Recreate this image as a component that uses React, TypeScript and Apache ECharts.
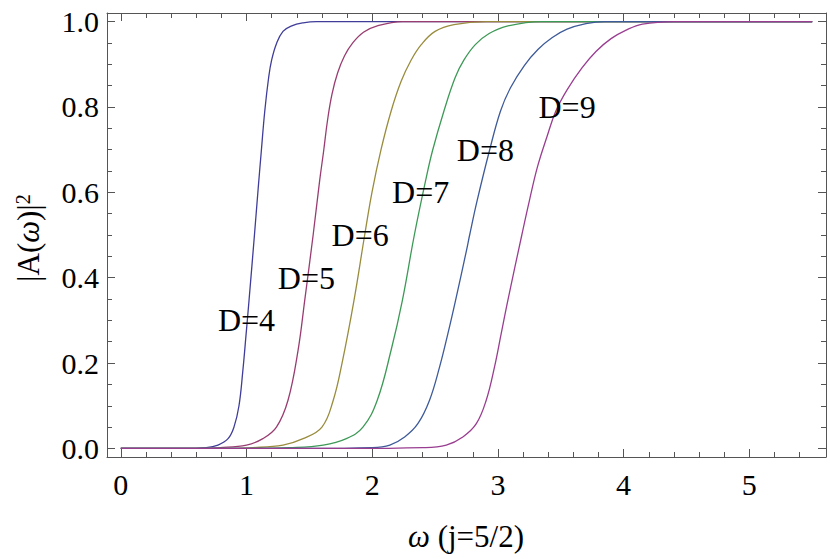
import React, { useEffect, useRef } from "react";
import * as echarts from "echarts";

// ---- data (omega, |A|^2) ----
const D4: number[][] = [[0,0],[0.5,0],[0.68,0.002],[0.773,0.008],[0.853,0.023],[0.9,0.05],[0.94,0.1],[0.97,0.18],[0.997,0.269],[1.02,0.347],[1.063,0.5],[1.093,0.61],[1.118,0.698],[1.145,0.79],[1.176,0.869],[1.2,0.91],[1.238,0.948],[1.29,0.977],[1.36,0.99],[1.45,0.997],[1.556,1],[5.5,1]];
const D5: number[][] = [[0,0],[0.6,0],[0.79,0.002],[1.0,0.008],[1.13,0.023],[1.238,0.05],[1.33,0.113],[1.41,0.23],[1.463,0.347],[1.53,0.5],[1.582,0.628],[1.614,0.698],[1.645,0.77],[1.68,0.83],[1.725,0.88],[1.78,0.92],[1.845,0.95],[1.93,0.975],[2.04,0.99],[2.24,1],[5.5,1]];
const D6: number[][] = [[0,0],[0.8,0],[1.05,0.002],[1.29,0.008],[1.45,0.023],[1.6,0.05],[1.69,0.113],[1.76,0.2],[1.855,0.347],[1.94,0.5],[1.998,0.6],[2.07,0.7],[2.15,0.79],[2.23,0.86],[2.31,0.91],[2.39,0.946],[2.5,0.977],[2.65,0.993],[2.91,1],[5.5,1]];
const D7: number[][] = [[0,0],[1.0,0],[1.34,0.002],[1.61,0.008],[1.794,0.023],[1.926,0.05],[2.04,0.113],[2.15,0.23],[2.24,0.347],[2.335,0.5],[2.425,0.628],[2.48,0.698],[2.57,0.79],[2.66,0.869],[2.73,0.91],[2.82,0.946],[2.93,0.972],[3.08,0.99],[3.35,1],[5.5,1]];
const D8: number[][] = [[0,0],[1.5,0],[2.0,0.002],[2.14,0.008],[2.258,0.027],[2.363,0.058],[2.456,0.113],[2.536,0.191],[2.602,0.269],[2.663,0.347],[2.75,0.464],[2.775,0.5],[2.835,0.581],[2.933,0.698],[3.02,0.79],[3.1,0.845],[3.21,0.897],[3.32,0.935],[3.43,0.962],[3.55,0.982],[3.7,0.995],[3.85,1],[5.5,1]];
const D9: number[][] = [[0,0],[1.8,0],[2.403,0.002],[2.589,0.008],[2.721,0.027],[2.828,0.058],[2.907,0.113],[2.973,0.191],[3.026,0.269],[3.079,0.347],[3.19,0.5],[3.25,0.58],[3.315,0.66],[3.39,0.73],[3.46,0.79],[3.55,0.84],[3.67,0.892],[3.78,0.93],[3.9,0.96],[4.02,0.98],[4.15,0.994],[4.4,1],[5.5,1]];

const SERIES_NAMES = ["D=4", "D=5", "D=6", "D=7", "D=8", "D=9"];
const SERIES_DATA = [D4, D5, D6, D7, D8, D9];
const SERIES_COLORS = ["#3f3d99", "#993d71", "#998c3d", "#3d9956", "#3d5a99", "#993d90"];
// label anchor points (omega, value) for the curve labels
const LABEL_POINTS: [number, number, string][] = [
  [1.0, 0.3, "D=4"],
  [1.476, 0.4, "D=5"],
  [1.904, 0.5, "D=6"],
  [2.385, 0.6, "D=7"],
  [2.9, 0.7, "D=8"],
  [3.55, 0.8, "D=9"],
];

const X_MIN = -0.11;
const X_MAX = 5.61;
const Y_MIN = -0.02;
const Y_MAX = 1.02;
const X_MAJOR = [0, 1, 2, 3, 4, 5];
const X_MINOR: number[] = [];
for (let i = 1; i <= 27; i++) if (i % 5 !== 0) X_MINOR.push(+(i * 0.2).toFixed(2));
const Y_MAJOR = [0, 0.2, 0.4, 0.6, 0.8, 1.0];
const Y_MINOR: number[] = [];
for (let i = 1; i < 20; i++) if (i % 4 !== 0) Y_MINOR.push(+(i * 0.05).toFixed(2));

const FONT = "'Liberation Serif', 'Times New Roman', serif";
const FRAME = "#555555";

function xAxisDef(position: "top" | "bottom", ticks: number[], len: number, showLine: boolean, showLabel: boolean) {
  return {
    type: "value",
    position,
    min: X_MIN,
    max: X_MAX,
    axisLine: { show: showLine, onZero: false, lineStyle: { color: FRAME, width: 1 } },
    axisTick: { show: true, inside: true, length: len, customValues: ticks, lineStyle: { color: FRAME, width: 1 } },
    axisLabel: showLabel
      ? { show: true, customValues: ticks, fontSize: 30, fontFamily: FONT, color: "#000", margin: 12, formatter: (v: number) => String(v) }
      : { show: false },
    splitLine: { show: false },
  };
}
function yAxisDef(position: "left" | "right", ticks: number[], len: number, showLine: boolean, showLabel: boolean) {
  return {
    type: "value",
    position,
    min: Y_MIN,
    max: Y_MAX,
    axisLine: { show: showLine, onZero: false, lineStyle: { color: FRAME, width: 1 } },
    axisTick: { show: true, inside: true, length: len, customValues: ticks, lineStyle: { color: FRAME, width: 1 } },
    axisLabel: showLabel
      ? { show: true, customValues: ticks, fontSize: 30, fontFamily: FONT, color: "#000", margin: 8, formatter: (v: number) => v.toFixed(1) }
      : { show: false },
    splitLine: { show: false },
  };
}

export default function App() {
  const ref = useRef<HTMLDivElement>(null);
  useEffect(() => {
    if (!ref.current) return;
    const chart = echarts.init(ref.current, undefined, { renderer: "svg" });
    const lines = SERIES_DATA.map((d, i) => ({
      name: SERIES_NAMES[i],
      type: "line",
      xAxisIndex: 0,
      yAxisIndex: 0,
      data: d,
      showSymbol: false,
      smooth: 0.4,
      lineStyle: { color: SERIES_COLORS[i], width: 1.3 },
      itemStyle: { color: SERIES_COLORS[i] },
      z: 2,
    }));
    const option = {
      animation: false,
      backgroundColor: "#ffffff",
      grid: { left: 107, right: 4, top: 13, bottom: 102, containLabel: false },
      xAxis: [
        xAxisDef("bottom", X_MAJOR, 8, true, true),
        xAxisDef("bottom", X_MINOR, 5, false, false),
        xAxisDef("top", X_MAJOR, 8, true, false),
        xAxisDef("top", X_MINOR, 5, false, false),
      ],
      yAxis: [
        yAxisDef("left", Y_MAJOR, 8, true, true),
        yAxisDef("left", Y_MINOR, 5, false, false),
        yAxisDef("right", Y_MAJOR, 8, true, false),
        yAxisDef("right", Y_MINOR, 5, false, false),
      ],
      series: [
        ...lines,
        {
          name: "labels",
          type: "scatter",
          xAxisIndex: 0,
          yAxisIndex: 0,
          symbolSize: 0,
          itemStyle: { color: "#000", opacity: 1 },
          data: LABEL_POINTS.map((p) => [p[0], p[1], p[2]]),
          label: {
            show: true,
            position: "inside",
            formatter: (p: any) => p.data[2],
            fontSize: 32,
            fontFamily: FONT,
            color: "#000",
            opacity: 1,
            textBorderWidth: 0,
            textBorderColor: "transparent",
          },
          emphasis: { disabled: true },
          z: 3,
        },
      ],
      graphic: [
        {
          type: "text",
          x: 466,
          y: 536,
          style: {
            text: "{n|ω} (j=5/2)",
            font: "31px " + FONT,
            fill: "#000",
            textAlign: "center",
            textVerticalAlign: "middle",
            rich: {
              n: { fontStyle: "italic", fontSize: 31, fontFamily: FONT, fill: "#000" },
            },
          },
        },
        {
          type: "text",
          x: 28,
          y: 238,
          rotation: Math.PI / 2,
          style: {
            text: "|A({n|ω})|{s|2}",
            font: "31px " + FONT,
            fill: "#000",
            textAlign: "center",
            textVerticalAlign: "middle",
            rich: {
              n: { fontStyle: "italic", fontSize: 31, fontFamily: FONT, fill: "#000" },
              s: { fontSize: 20, fontFamily: FONT, fill: "#000", verticalAlign: "top" },
            },
          },
        },
      ],
    };
    chart.setOption(option as any);
    return () => chart.dispose();
  }, []);
  return (
    <div
      ref={ref}
      style={{ position: "fixed", left: 0, top: 0, width: 830, height: 559, background: "#fff" }}
    />
  );
}
